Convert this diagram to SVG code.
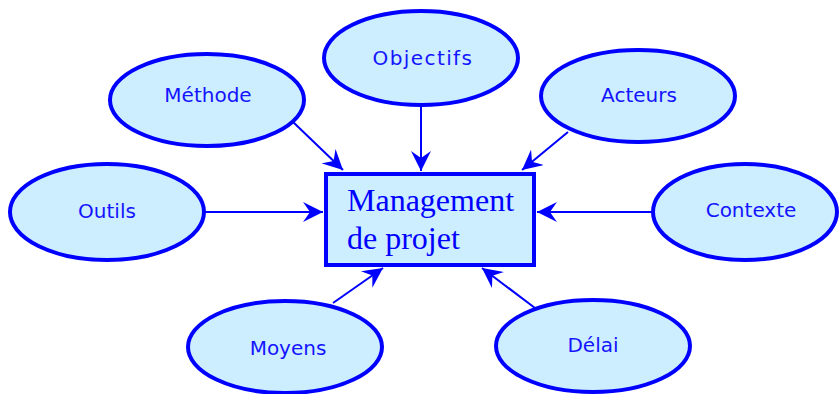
<svg xmlns="http://www.w3.org/2000/svg" width="839" height="394" viewBox="0 0 839 394">
<style>
.node ellipse{fill:#cceeff;stroke:#0000ff;stroke-width:4}
.node text{font-family:"DejaVu Sans",Verdana,sans-serif;font-size:20px;fill:#1414ff;text-anchor:middle}
.conn line{stroke:#0000ff;stroke-width:2}
.main rect{fill:#cceeff;stroke:#0000ff;stroke-width:4}
.main text{font-family:"Liberation Serif","Times New Roman",serif;font-size:32px;fill:#0000ff}
</style>
<defs>
<marker id="ah" viewBox="0 0 20 20" refX="20" refY="10" markerWidth="20" markerHeight="20" markerUnits="userSpaceOnUse" orient="auto">
<path d="M20,10 L0,0 L7,10 L0,20 Z" fill="#0000ff"/>
</marker>
</defs>
<g id="connectors" class="conn">
<line x1="421" y1="105" x2="421" y2="171" marker-end="url(#ah)"/>
<line x1="292" y1="121" x2="343" y2="170" marker-end="url(#ah)"/>
<line x1="568" y1="132" x2="522" y2="170" marker-end="url(#ah)"/>
<line x1="203" y1="212" x2="323" y2="212" marker-end="url(#ah)"/>
<line x1="653" y1="212" x2="537" y2="212" marker-end="url(#ah)"/>
<line x1="333" y1="303" x2="383" y2="268" marker-end="url(#ah)"/>
<line x1="535" y1="308" x2="482" y2="268" marker-end="url(#ah)"/>
</g>
<g id="management" class="main">
<rect x="326" y="174" width="208" height="91"/>
<text x="347" y="211">Management</text>
<text x="347" y="249">de projet</text>
</g>
<g id="objectifs" class="node">
<ellipse cx="421" cy="58" rx="97" ry="47"/>
<text x="423" y="65" style="letter-spacing:1.4px">Objectifs</text>
</g>
<g id="methode" class="node">
<ellipse cx="207" cy="100" rx="97" ry="46"/>
<text x="208" y="102">Méthode</text>
</g>
<g id="acteurs" class="node">
<ellipse cx="638" cy="96" rx="97" ry="46"/>
<text x="639" y="102">Acteurs</text>
</g>
<g id="outils" class="node">
<ellipse cx="107" cy="212" rx="97" ry="48"/>
<text x="107" y="218">Outils</text>
</g>
<g id="contexte" class="node">
<ellipse cx="745" cy="212" rx="92" ry="48"/>
<text x="751" y="217">Contexte</text>
</g>
<g id="moyens" class="node">
<ellipse cx="285" cy="347" rx="97" ry="46"/>
<text x="288" y="355">Moyens</text>
</g>
<g id="delai" class="node">
<ellipse cx="593" cy="346" rx="97" ry="46"/>
<text x="593" y="352">Délai</text>
</g>
</svg>
